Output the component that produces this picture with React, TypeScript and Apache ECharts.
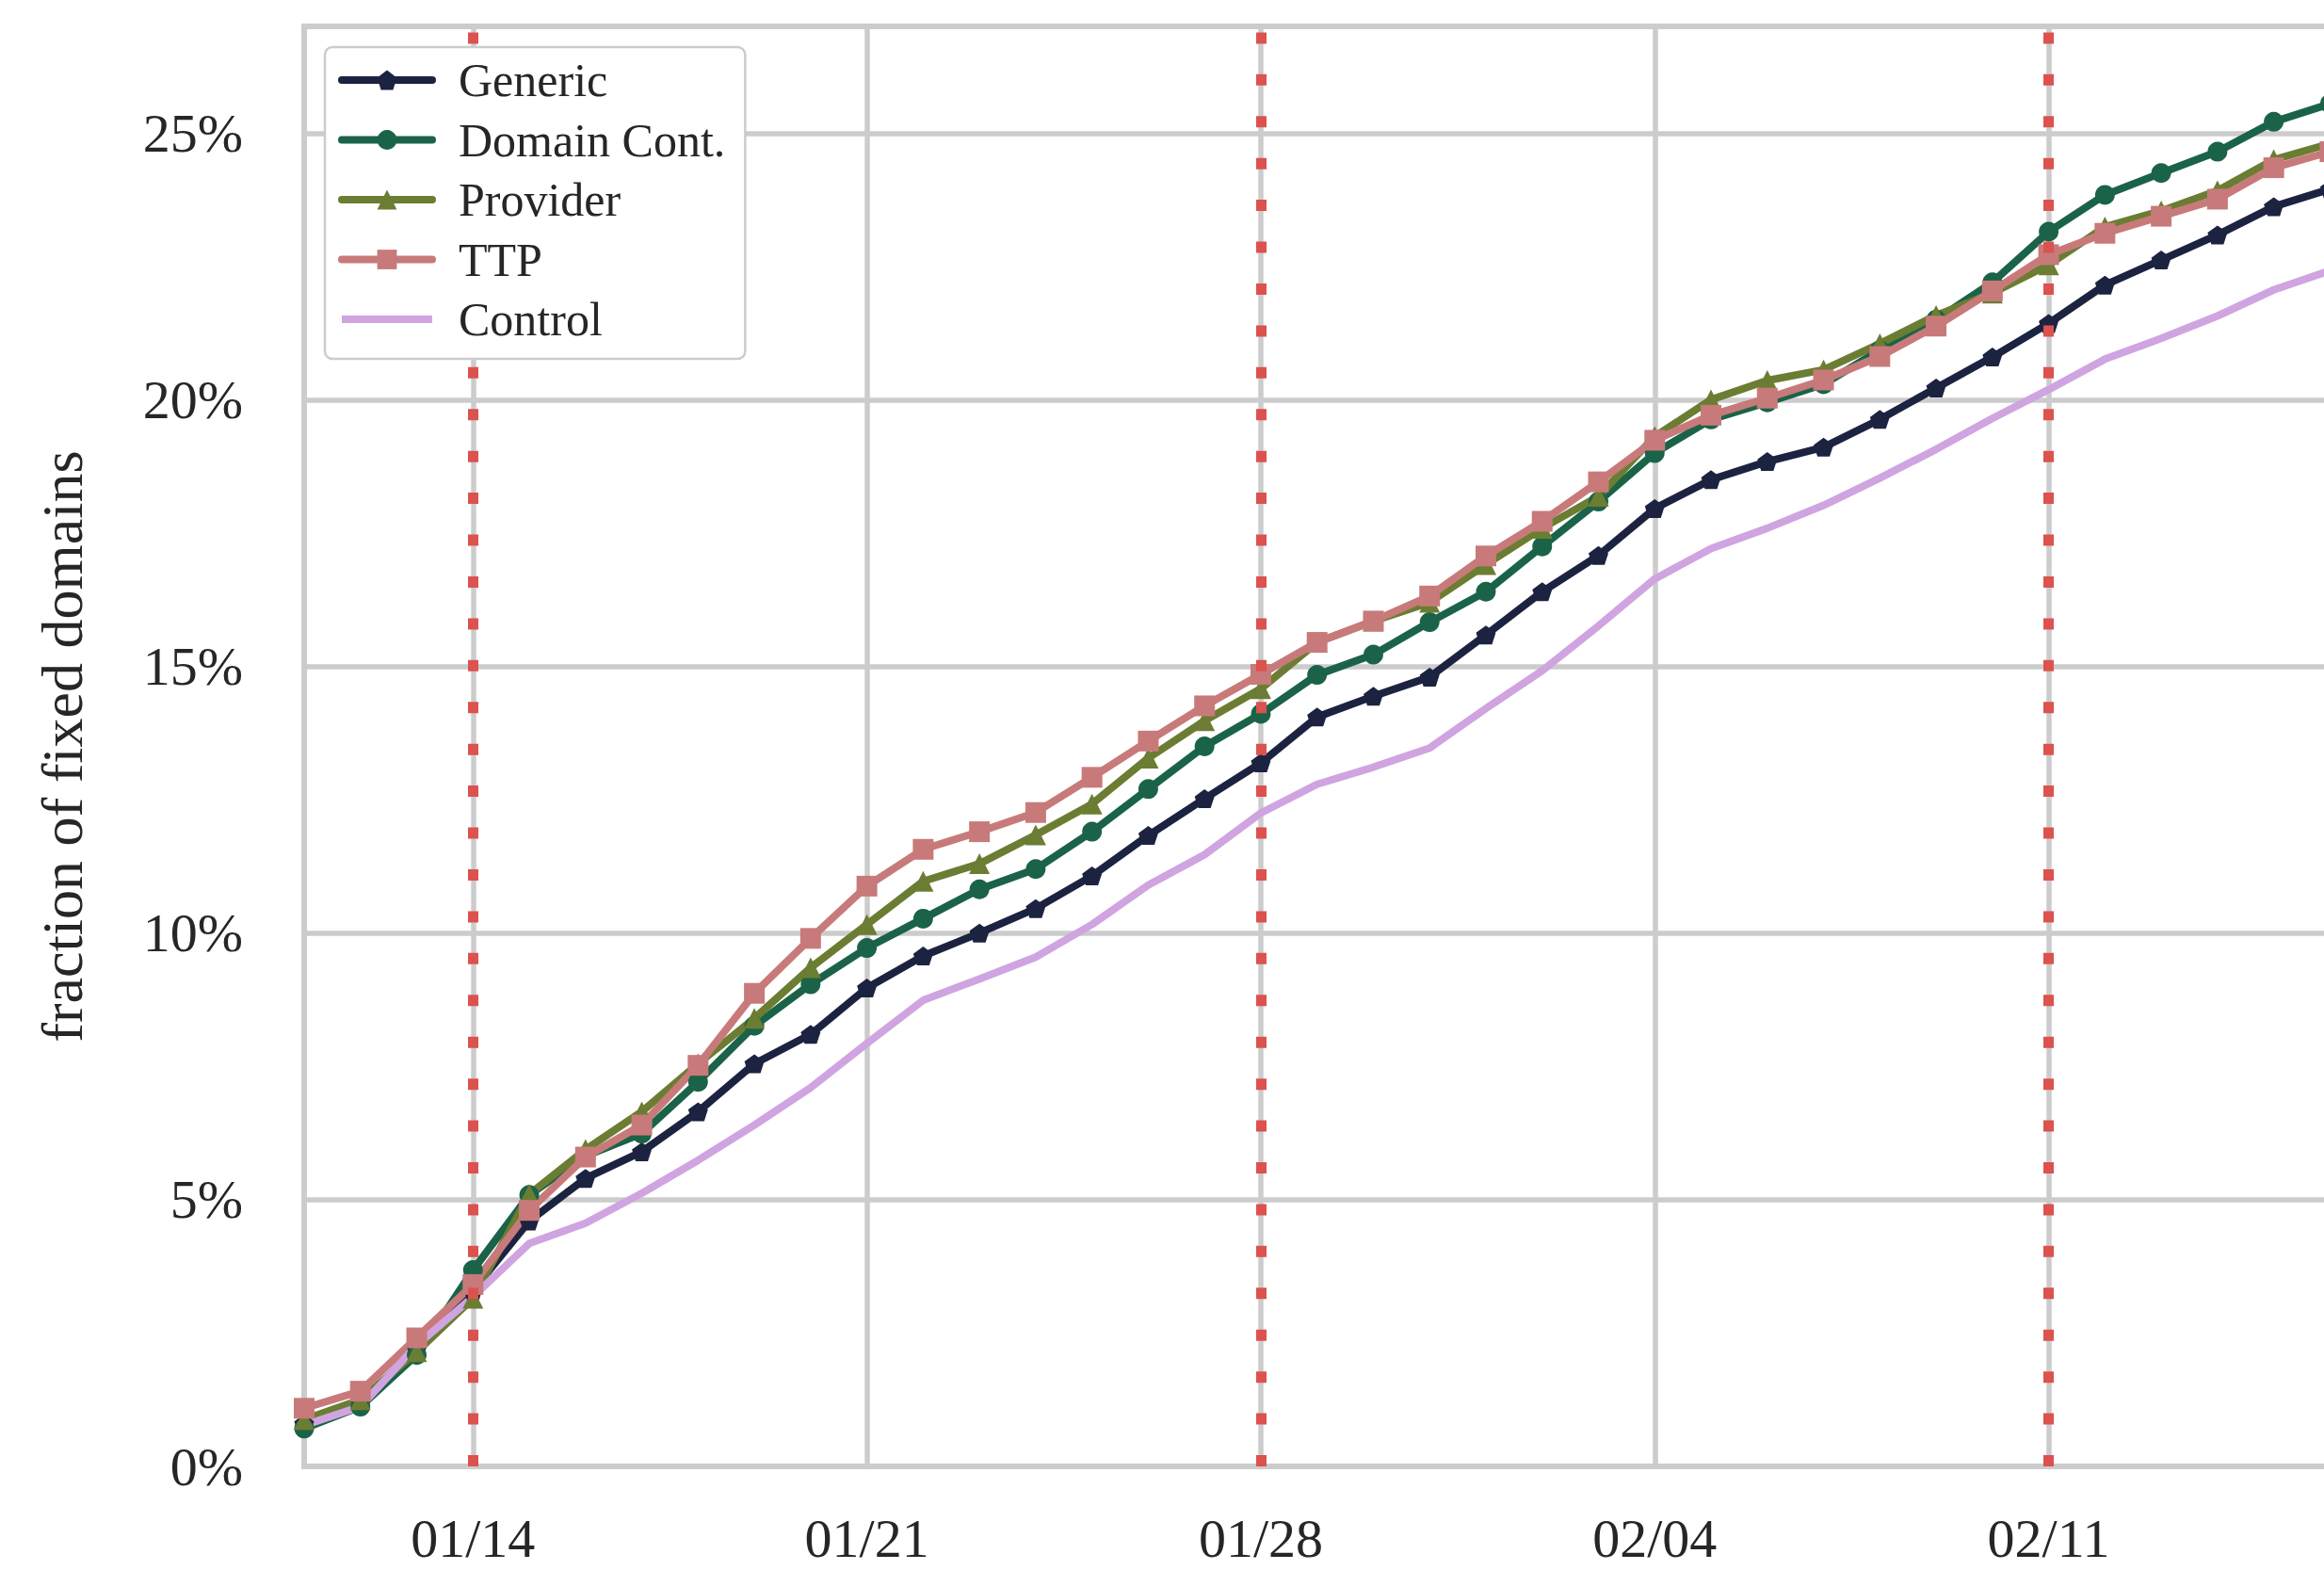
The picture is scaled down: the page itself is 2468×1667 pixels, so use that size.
import React, { useEffect, useRef } from 'react';
import * as echarts from 'echarts';

const dates = [
  '01/11', '01/12', '01/13', '01/14', '01/15', '01/16', '01/17', '01/18', '01/19', '01/20',
  '01/21', '01/22', '01/23', '01/24', '01/25', '01/26', '01/27', '01/28', '01/29', '01/30',
  '01/31', '02/01', '02/02', '02/03', '02/04', '02/05', '02/06', '02/07', '02/08', '02/09',
  '02/10', '02/11', '02/12', '02/13', '02/14', '02/15', '02/16',
];

const tickDates = ['01/14', '01/21', '01/28', '02/04', '02/11'];
const markedDates = ['01/14', '01/28', '02/11'];

const genericValues = [
  0.8, 1.2, 2.2, 3.3, 4.6, 5.4, 5.9, 6.65, 7.55, 8.1,
  8.97, 9.57, 10.0, 10.46, 11.07, 11.83, 12.52, 13.19, 14.05, 14.44,
  14.8, 15.59, 16.4, 17.08, 17.96, 18.5, 18.84, 19.11, 19.63, 20.22,
  20.8, 21.43, 22.15, 22.62, 23.09, 23.62, 23.95,
];

const domainContValues = [
  0.71, 1.12, 2.09, 3.68, 5.09, 5.82, 6.24, 7.21, 8.26, 9.04,
  9.72, 10.27, 10.82, 11.2, 11.9, 12.7, 13.5, 14.11, 14.84, 15.22,
  15.83, 16.4, 17.25, 18.09, 19.0, 19.63, 19.95, 20.29, 20.93, 21.5,
  22.2, 23.15, 23.84, 24.25, 24.65, 25.21, 25.55,
];

const providerValues = [
  0.88, 1.25, 2.15, 3.15, 5.1, 5.94, 6.65, 7.55, 8.4, 9.35,
  10.16, 10.97, 11.3, 11.84, 12.42, 13.28, 13.98, 14.58, 15.45, 15.85,
  16.2, 16.91, 17.59, 18.19, 19.31, 20.0, 20.36, 20.56, 21.05, 21.58,
  22.0, 22.53, 23.24, 23.54, 23.92, 24.5, 24.8,
];

const ttpValues = [
  1.09, 1.41, 2.41, 3.41, 4.8, 5.8, 6.4, 7.52, 8.87, 9.9,
  10.88, 11.57, 11.9, 12.26, 12.92, 13.6, 14.26, 14.85, 15.45, 15.85,
  16.32, 17.07, 17.72, 18.46, 19.24, 19.71, 20.03, 20.37, 20.81, 21.38,
  22.04, 22.72, 23.12, 23.44, 23.76, 24.35, 24.65,
];

const controlValues = [
  0.77, 1.12, 2.27, 3.18, 4.18, 4.56, 5.12, 5.74, 6.4, 7.1,
  7.93, 8.74, 9.14, 9.55, 10.16, 10.9, 11.47, 12.25, 12.79, 13.11,
  13.47, 14.21, 14.92, 15.76, 16.64, 17.21, 17.59, 18.02, 18.53, 19.07,
  19.65, 20.19, 20.76, 21.15, 21.57, 22.06, 22.42,
];

const FONT = '"Liberation Serif", "DejaVu Serif", serif';
const TEXT = '#262626';
const GRID = '#cccccc';
const RED = '#dc524e';
const LINE_W = 8;
const PENTAGON = 'path://M0,-1L0.951,-0.309L0.588,0.809L-0.588,0.809L-0.951,-0.309Z';

const seriesDefs = [
  { name: 'Generic', data: genericValues, color: '#1c2341', symbol: PENTAGON, size: [21, 20] },
  { name: 'Domain Cont.', data: domainContValues, color: '#1b6348', symbol: 'circle', size: 21 },
  { name: 'Provider', data: providerValues, color: '#6b7d32', symbol: 'triangle', size: 22 },
  { name: 'TTP', data: ttpValues, color: '#c87a7a', symbol: 'rect', size: 22 },
  { name: 'Control', data: controlValues, color: '#cfa4e0', symbol: 'none', size: 0 },
];

export default function App() {
  const ref = useRef<HTMLDivElement>(null);

  useEffect(() => {
    if (!ref.current) return;
    const chart = echarts.init(ref.current, undefined, { renderer: 'svg' });

    const series: any[] = seriesDefs.map((s) => ({
      name: s.name,
      type: 'line',
      data: s.data,
      symbol: s.symbol,
      symbolSize: s.size,
      showSymbol: s.symbol !== 'none',
      showAllSymbol: true,
      lineStyle: { color: s.color, width: LINE_W, cap: 'round', join: 'round' },
      itemStyle: { color: s.color },
      emphasis: { disabled: true },
      z: 2,
    }));

    series.push({
      name: 'marks',
      type: 'line',
      data: [],
      silent: true,
      z: 3,
      markLine: {
        silent: true,
        symbol: 'none',
        z: 3,
        animation: false,
        label: { show: false },
        emphasis: { disabled: true },
        lineStyle: { color: RED, width: 11, type: [12, 32.43], opacity: 1 },
        data: markedDates.map((d) => ({ xAxis: d })),
      },
    });

    chart.setOption({
      animation: false,
      backgroundColor: '#ffffff',
      grid: {
        left: 323,
        width: 2151.4,
        top: 28,
        bottom: 110,
        show: true,
        borderColor: GRID,
        borderWidth: 6,
        backgroundColor: 'transparent',
        containLabel: false,
        outerBoundsMode: 'none',
      },
      legend: {
        data: seriesDefs.map((s) =>
          s.name === 'Control'
            ? { name: s.name, icon: 'path://M0,0H96V8H0Z' }
            : { name: s.name }
        ),
        orient: 'vertical',
        left: 345,
        top: 50,
        z: 10,
        padding: [10, 21, 17, 14],
        itemWidth: 96,
        itemHeight: 26,
        itemGap: 13.5,
        backgroundColor: '#ffffff',
        borderColor: GRID,
        borderWidth: 2.5,
        borderRadius: 8,
        selectedMode: false,
        lineStyle: { width: LINE_W, cap: 'round' },
        textStyle: {
          fontFamily: FONT,
          fontSize: 50,
          lineHeight: 50,
          color: TEXT,
          padding: [0, 0, 0, 23],
        },
      },
      xAxis: {
        type: 'category',
        data: dates,
        boundaryGap: false,
        axisLine: { show: false },
        axisTick: { show: false },
        axisLabel: {
          interval: (_i: number, v: string) => tickDates.includes(v),
          margin: 56,
          lineHeight: 40,
          fontFamily: FONT,
          fontSize: 58,
          color: TEXT,
        },
        splitLine: {
          show: true,
          interval: (_i: number, v: string) => tickDates.includes(v),
          lineStyle: { color: GRID, width: 5.5 },
        },
      },
      yAxis: {
        type: 'value',
        min: 0,
        max: 27,
        interval: 5,
        name: 'fraction of fixed domains',
        nameLocation: 'middle',
        nameGap: 226,
        nameTextStyle: { fontFamily: FONT, fontSize: 62, color: TEXT },
        axisLine: { show: false },
        axisTick: { show: false },
        axisLabel: {
          formatter: (v: number) => (v % 5 === 0 ? `${v}%` : ''),
          margin: 65,
          fontFamily: FONT,
          fontSize: 58,
          color: TEXT,
        },
        splitLine: { show: true, lineStyle: { color: GRID, width: 5.5 } },
      },
      series,
    });

    return () => chart.dispose();
  }, []);

  return (
    <div
      ref={ref}
      style={{ position: 'fixed', left: 0, top: 0, width: 2468, height: 1667, background: '#fff' }}
    />
  );
}
